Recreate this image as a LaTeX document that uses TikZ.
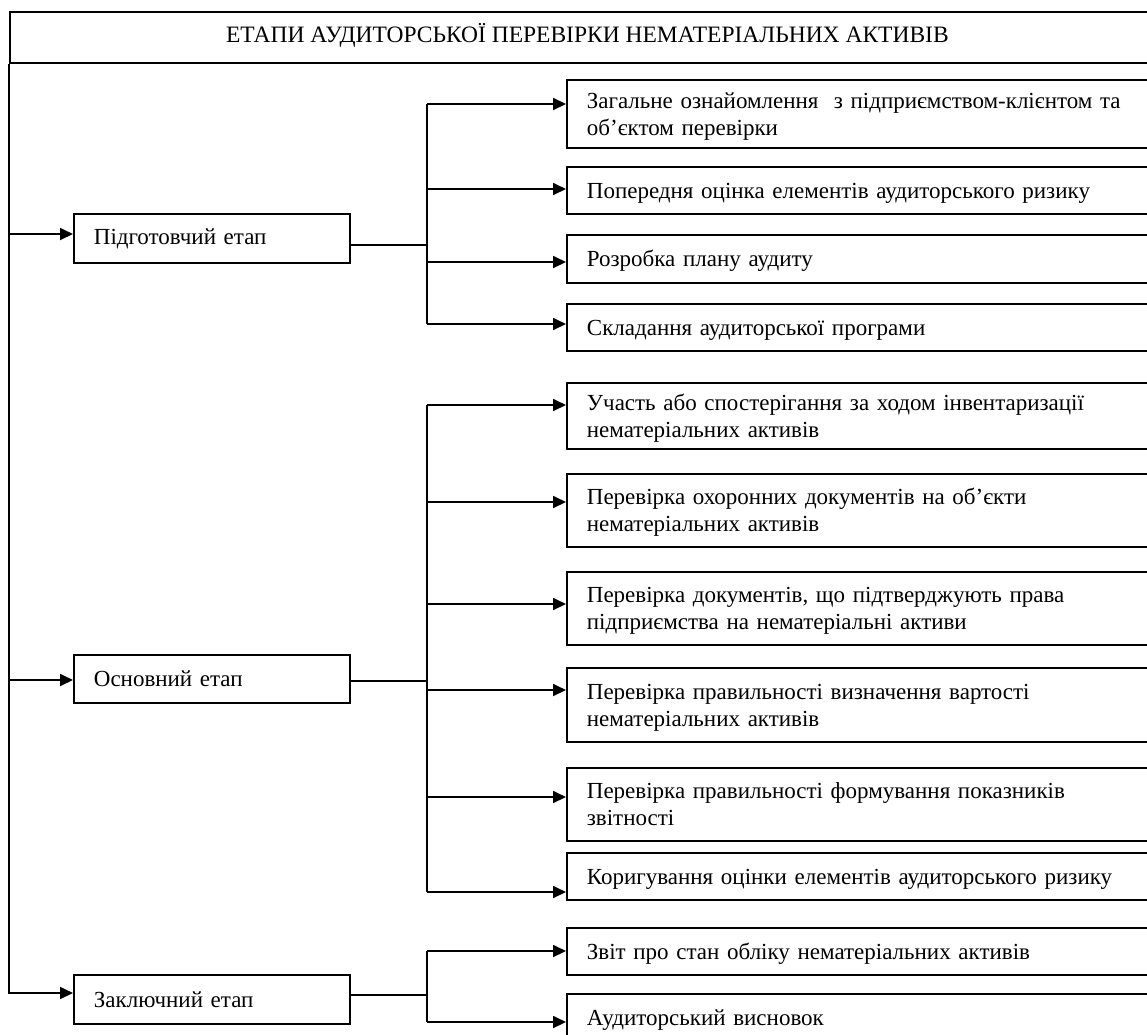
\documentclass[tikz,border=0pt]{standalone}
\usepackage{fontspec}
\setmainfont{Liberation Serif}
\newfontfamily\boxfont{Liberation Serif}
\usetikzlibrary{arrows.meta}
\begin{document}
\begin{tikzpicture}[x=1pt,y=-1pt,
  ln/.style={line width=1.8pt},
  arr/.style={line width=1.8pt,-{Triangle[length=13pt,width=12pt]}},
  subbox/.style={draw,line width=1.8pt,anchor=north west,text width=558pt,inner xsep=20pt,inner ysep=0pt,align=left,
    font=\boxfont\fontsize{23}{27}\selectfont,
    execute at begin node={\rule{0pt}{24pt}},
    execute at end node={\rule[-8pt]{0pt}{8pt}}},
  stagebox/.style={draw,line width=1.8pt,anchor=north west,text width=236pt,inner xsep=20pt,inner ysep=0pt,align=left,
    font=\boxfont\fontsize{23}{27}\selectfont},
  titlebox/.style={draw,line width=1.8pt,anchor=north west,minimum width=1155pt,minimum height=51pt,inner sep=0pt,
    text height=18pt,text depth=8.8pt,font=\boxfont\fontsize{23.5}{27}\selectfont}
]
\useasboundingbox (0,0) rectangle (1147,1034);
\clip (0,0) rectangle (1147,1034);
\fill[white] (0,0) rectangle (1147,1034);

% title
\node[titlebox] (title) at (9,11) {ЕТАПИ АУДИТОРСЬКОЇ ПЕРЕВІРКИ НЕМАТЕРІАЛЬНИХ АКТИВІВ};

% stages
\node[stagebox,minimum height=49pt] (s1) at (73,213) {Підготовчий етап};
\node[stagebox,minimum height=48pt] (s2) at (73,654) {Основний етап};
\node[stagebox,minimum height=49pt] (s3) at (73,974) {Заключний етап};

% sub boxes
\node[subbox,minimum height=68pt] (b1) at (566,79) {Загальне ознайомлення~ з підприємством-клієнтом та\\об’єктом перевірки};
\node[subbox,minimum height=47pt] (b2) at (566,166) {Попередня оцінка елементів аудиторського ризику};
\node[subbox,minimum height=48pt] (b3) at (566,234) {Розробка плану аудиту};
\node[subbox,minimum height=47pt] (b4) at (566,303) {Складання аудиторської програми};
\node[subbox,minimum height=66pt] (b5) at (566,382) {Участь або спостерігання за ходом інвентаризації\\нематеріальних активів};
\node[subbox,minimum height=73pt] (b6) at (566,473) {Перевірка охоронних документів на об’єкти\\нематеріальних активів};
\node[subbox,minimum height=73pt] (b7) at (566,571) {Перевірка документів, що підтверджують права\\підприємства на нематеріальні активи};
\node[subbox,minimum height=74pt] (b8) at (566,667) {Перевірка правильності визначення вартості\\нематеріальних активів};
\node[subbox,minimum height=73pt] (b9) at (566,767) {Перевірка правильності формування показників\\звітності};
\node[subbox,minimum height=47pt] (b10) at (566,852) {Коригування оцінки елементів аудиторського ризику};
\node[subbox,minimum height=47pt] (b11) at (566,927) {Звіт про стан обліку нематеріальних активів};
\node[subbox,minimum height=47pt] (b12) at (566,993) {Аудиторський висновок};

% main left line
\coordinate (c1) at (9,234);
\coordinate (c2) at (9,680);
\coordinate (c3) at (9,993);
\draw[arr] (title.south west) -- (c3) -- (c3 -| s3.west);
\draw[arr] (c1) -- (c1 -| s1.west);
\draw[arr] (c2) -- (c2 -| s2.west);

% bus coordinates
\coordinate (a1) at (427,104);
\coordinate (a2) at (427,189);
\coordinate (a3) at (427,262);
\coordinate (a4) at (427,324);
\coordinate (a5) at (427,405);
\coordinate (a6) at (427,502);
\coordinate (a7) at (427,604);
\coordinate (a8) at (427,690);
\coordinate (a9) at (427,797);
\coordinate (a10) at (427,892);
\coordinate (a11) at (427,951);
\coordinate (a12) at (427,1022);

% stage outputs
\draw[ln] ([yshift=-6.5pt]s1.east) -- ([yshift=-6.5pt]s1.east -| a1);
\draw[ln] ([yshift=-2pt]s2.east) -- ([yshift=-2pt]s2.east -| a1);
\draw[ln] ([yshift=4.5pt]s3.east) -- ([yshift=4.5pt]s3.east -| a1);

% buses
\draw[ln] (a1) -- (a4);
\draw[ln] (a5) -- (a10);
\draw[ln] (a11) -- (a12);

% branch arrows
\foreach \i in {1,...,12}{
  \draw[arr] (a\i) -- (a\i -| b\i.west);
}
\end{tikzpicture}
\end{document}
